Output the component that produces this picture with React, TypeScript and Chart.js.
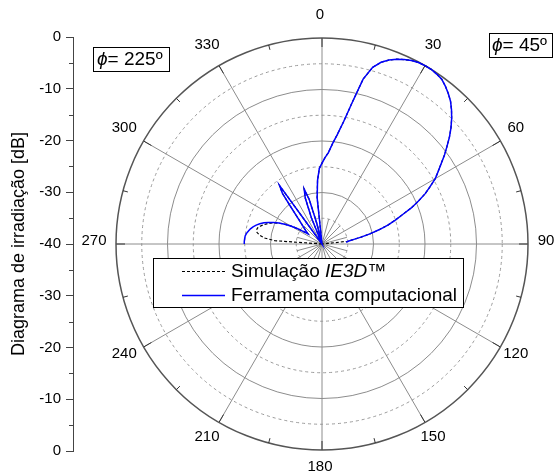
import React, { useEffect, useRef } from 'react';
import { Chart, registerables } from 'chart.js';

Chart.register(...registerables);

const FONT = '"Liberation Sans", Arial, Helvetica, sans-serif';

// ---- data (dB, radius axis -40 .. 0), sampled every 2 degrees ----
const stepDeg = 2;
// phi = 45 deg half-plane, theta 0..90 (compass 0..90)
const blueFront = [
  -24.3, -23.2, -22.2, -20.4, -18.5, -15.9, -12.0, -7.0, -4.3, -2.9,
  -2.0, -1.3, -0.8, -0.35, -0.1, 0, 0, -0.2, -0.45, -1.1,
  -1.85, -2.7, -3.8, -5.0, -6.3, -7.7, -9.2, -10.6, -12.1, -13.4,
  -14.6, -16.2, -17.7, -19.5, -21.3, -23.4, -25.1, -26.7, -28.6, -30.5,
  -32.3, -33.9, -34.9, -35.3, null, null,
];
const blackFront = [
  -24.3, -23.2, -22.2, -20.4, -18.5, -15.9, -12.0, -7.0, -4.3, -2.9,
  -2.0, -1.3, -0.8, -0.35, -0.1, 0, 0, -0.2, -0.45, -1.1,
  -1.85, -2.7, -3.8, -5.0, -6.3, -7.7, -9.2, -10.6, -12.1, -13.4,
  -14.6, -16.2, -17.7, -19.5, -21.3, -23.4, -25.1, -26.7, -28.6, -30.5,
  -32.3, -33.9, -34.9, -40, -40, -40,
];
// phi = 225 deg half-plane, compass 270..358
const blueBack = [
  -24.9, -24.9, -24.95, -25.0, -25.2, -25.5, -25.8, -26.2, -26.7, -27.3,
  -28.0, -28.8, -29.7, -30.7, -31.8, -33.0, -34.3, -35.7, -36.6, -36.2,
  -35.8, -35.3, -34.6, -33.8, -32.5, -30.5, -27.5, -26.0, -40, -40,
  -40, -40, -40, -40, -34.5, -30.5, -28.8, -31.0, -36.0, -40,
  -40, -40, -31.0, -27.6, -25.3,
];
const blackBack = [
  -40, -40, -30.8, -28.8, -27.8, -27.2, -27.0, -27.1, -27.5, -28.0,
  -28.6, -29.2, -29.9, -30.8, -31.8, -33.0, -34.3, -35.7, -36.6, -36.2,
  -35.8, -35.3, -34.6, -33.8, -32.5, -30.5, -27.5, -26.0, -40, -40,
  -40, -40, -40, -40, -34.5, -30.5, -28.8, -31.0, -36.0, -40,
  -40, -40, -31.0, -27.6, -25.3,
];
const backStartDeg = 270;

const angleTickLabels = [0, 30, 60, 90, 120, 150, 180, 210, 240, 270, 300, 330];
const minorAngleTicks = [15, 45, 75, 105, 135, 165, 195, 225, 255, 285, 315, 345];
const radialMin = -40;
const radialMax = 0;
const radialStep = 5;
const starValue = -35;

const axisMin = -40;
const axisMax = 40;
const axisStep = 10;
const axisMinorValues = [-35, -25, -15, -5, 5, 15, 25, 35];
const axisTitle = 'Diagrama de irradiação [dB]';

const seriesNames = ['Simulação ', 'IE3D', '™', 'Ferramenta computacional'];
const phiLeft = '= 225º';
const phiRight = '= 45º';

const angleCount = 360 / stepDeg;
const angleLabels = Array.from({ length: angleCount }, (_, i) => String(i * stepDeg));

function assemble(front: (number | null)[], back: (number | null)[]) {
  const out: (number | null)[] = new Array(angleCount).fill(null);
  front.forEach((v, i) => { out[i] = v; });
  back.forEach((v, i) => { out[backStartDeg / stepDeg + i] = v; });
  return out;
}

const blueData = assemble(blueFront, blueBack);
const blackData = assemble(blackFront, blackBack);

function richText(ctx: CanvasRenderingContext2D, parts: { t: string; i?: boolean }[], x: number, y: number, size: number) {
  let cx = x;
  for (const p of parts) {
    ctx.font = `${p.i ? 'italic ' : ''}${size}px ${FONT}`;
    ctx.fillText(p.t, cx, y);
    cx += ctx.measureText(p.t).width;
  }
}

const polarDecor = {
  id: 'polarDecor',
  beforeDatasetsDraw(chart: any) {
    const r = chart.scales.r;
    const ctx: CanvasRenderingContext2D = chart.ctx;
    const perDeg = r.getLabels().length / 360;
    const R = r.drawingArea;
    ctx.save();
    ctx.lineWidth = 1;
    ctx.strokeStyle = '#8c8c8c';
    const rs = r.getDistanceFromCenterForValue(starValue);
    for (const a of minorAngleTicks) {
      const p = r.getPointPosition(a * perDeg, rs);
      ctx.beginPath();
      ctx.moveTo(r.xCenter, r.yCenter);
      ctx.lineTo(p.x, p.y);
      ctx.stroke();
    }
    ctx.strokeStyle = '#333';
    const all = [...angleTickLabels.map((a) => [a, 9]), ...minorAngleTicks.map((a) => [a, 5])];
    for (const [a, len] of all) {
      const p1 = r.getPointPosition(a * perDeg, R);
      const p2 = r.getPointPosition(a * perDeg, R - len);
      ctx.beginPath();
      ctx.moveTo(p1.x, p1.y);
      ctx.lineTo(p2.x, p2.y);
      ctx.stroke();
    }
    ctx.restore();
  },
  afterDraw(chart: any) {
    const r = chart.scales.r;
    const ctx: CanvasRenderingContext2D = chart.ctx;
    const perDeg = r.getLabels().length / 360;
    const R = r.drawingArea;
    ctx.save();
    // angle labels
    ctx.fillStyle = '#000';
    ctx.font = `15px ${FONT}`;
    ctx.textAlign = 'center';
    ctx.textBaseline = 'middle';
    for (const a of angleTickLabels) {
      const p = r.getPointPosition(a * perDeg, R + 20);
      ctx.fillText(String(a), p.x - 2, p.y - 3);
    }
    // phi boxes
    ctx.textAlign = 'left';
    ctx.lineWidth = 1;
    ctx.strokeStyle = '#000';
    ctx.fillStyle = '#fff';
    ctx.fillRect(93.5, 47.5, 76, 24);
    ctx.strokeRect(93.5, 47.5, 76, 24);
    ctx.fillRect(489.5, 33.5, 63, 24);
    ctx.strokeRect(489.5, 33.5, 63, 24);
    ctx.fillStyle = '#000';
    richText(ctx, [{ t: 'ϕ', i: true }, { t: phiLeft }], 97, 60, 19);
    richText(ctx, [{ t: 'ϕ', i: true }, { t: phiRight }], 492, 46, 19);
    // legend
    ctx.fillStyle = '#fff';
    ctx.fillRect(153.5, 258.5, 310, 49);
    ctx.strokeStyle = '#000';
    ctx.strokeRect(153.5, 258.5, 310, 49);
    ctx.beginPath();
    ctx.setLineDash([3, 2]);
    ctx.lineWidth = 1.2;
    ctx.moveTo(182, 271.5);
    ctx.lineTo(225, 271.5);
    ctx.stroke();
    ctx.setLineDash([]);
    ctx.beginPath();
    ctx.strokeStyle = '#0000ff';
    ctx.lineWidth = 1.5;
    ctx.moveTo(182, 295.5);
    ctx.lineTo(225, 295.5);
    ctx.stroke();
    ctx.fillStyle = '#000';
    richText(ctx, [{ t: seriesNames[0] }, { t: seriesNames[1], i: true }, { t: seriesNames[2] }], 231, 272, 19);
    richText(ctx, [{ t: seriesNames[3] }], 231, 296, 19);
    ctx.restore();
  },
};

const axisMinor = {
  id: 'axisMinor',
  afterDraw(chart: any) {
    const y = chart.scales.y;
    const ctx: CanvasRenderingContext2D = chart.ctx;
    ctx.save();
    ctx.strokeStyle = '#444';
    ctx.lineWidth = 1;
    for (const v of axisMinorValues) {
      const py = Math.round(y.getPixelForValue(v)) + 0.5;
      ctx.beginPath();
      ctx.moveTo(y.right - 4, py);
      ctx.lineTo(y.right, py);
      ctx.stroke();
    }
    ctx.restore();
  },
};

export default function App() {
  const axisRef = useRef<HTMLCanvasElement>(null);
  const polarRef = useRef<HTMLCanvasElement>(null);

  useEffect(() => {
    const axisChart = new Chart(axisRef.current as HTMLCanvasElement, {
      type: 'scatter',
      data: { datasets: [] },
      options: {
        responsive: false,
        animation: false,
        layout: { padding: { top: 37, bottom: 23, left: 0, right: 4 } },
        plugins: { legend: { display: false }, tooltip: { enabled: false } },
        scales: {
          x: { display: false, min: 0, max: 1 },
          y: {
            min: axisMin,
            max: axisMax,
            afterFit: (s: any) => { s.width = 73; },
            ticks: {
              stepSize: axisStep,
              callback: (v: any) => String(Math.abs(Number(v)) - 40),
              font: { family: FONT, size: 15 },
              color: '#000',
              padding: 5,
            },
            grid: { drawOnChartArea: false, tickLength: 7, tickColor: '#444', color: '#444' },
            border: { color: '#444', width: 1 },
            title: {
              display: true,
              text: axisTitle,
              color: '#000',
              font: { family: FONT, size: 18 },
              padding: { top: 8, bottom: 0 },
            },
          },
        },
      } as any,
      plugins: [axisMinor],
    });

    const polarChart = new Chart(polarRef.current as HTMLCanvasElement, {
      type: 'radar',
      data: {
        labels: angleLabels,
        datasets: [
          {
            label: seriesNames[0] + seriesNames[1] + seriesNames[2],
            data: blackData,
            borderColor: '#000',
            borderWidth: 1.2,
            borderDash: [3, 2],
            fill: false,
            pointRadius: 0,
            spanGaps: false,
            tension: 0,
            order: 2,
          },
          {
            label: seriesNames[3],
            data: blueData,
            borderColor: '#0000ff',
            borderWidth: 1.5,
            fill: false,
            pointRadius: 0,
            spanGaps: false,
            tension: 0,
            order: 1,
          },
        ],
      },
      options: {
        responsive: false,
        animation: false,
        layout: { padding: { left: 116, right: 27, top: 37, bottom: 23 } },
        plugins: { legend: { display: false }, tooltip: { enabled: false } },
        scales: {
          r: {
            min: radialMin,
            max: radialMax,
            startAngle: 0,
            ticks: { display: false, stepSize: radialStep },
            pointLabels: { display: false },
            grid: {
              circular: true,
              color: (c: any) => (c.tick.value === radialMax ? '#555' : c.tick.value % 10 === 0 ? '#8c8c8c' : '#9a9a9a'),
              lineWidth: (c: any) => (c.tick.value === radialMax ? 1.5 : 1),
            },
            border: {
              dash: (c: any) => (c.tick && c.tick.value % 10 !== 0 ? [3, 3] : []),
            },
            angleLines: {
              display: true,
              color: '#8c8c8c',
              lineWidth: (c: any) => ((c.index * stepDeg) % 30 === 0 ? 1 : 0),
            },
          },
        },
      } as any,
      plugins: [polarDecor],
    });

    return () => {
      axisChart.destroy();
      polarChart.destroy();
    };
  }, []);

  return (
    <div style={{ position: 'absolute', left: 0, top: 0, width: 556, height: 474, background: '#fff', overflow: 'hidden' }}>
      <canvas ref={axisRef} width={80} height={474} style={{ position: 'absolute', left: 0, top: 0 }} />
      <canvas ref={polarRef} width={556} height={474} style={{ position: 'absolute', left: 0, top: 0 }} />
    </div>
  );
}
